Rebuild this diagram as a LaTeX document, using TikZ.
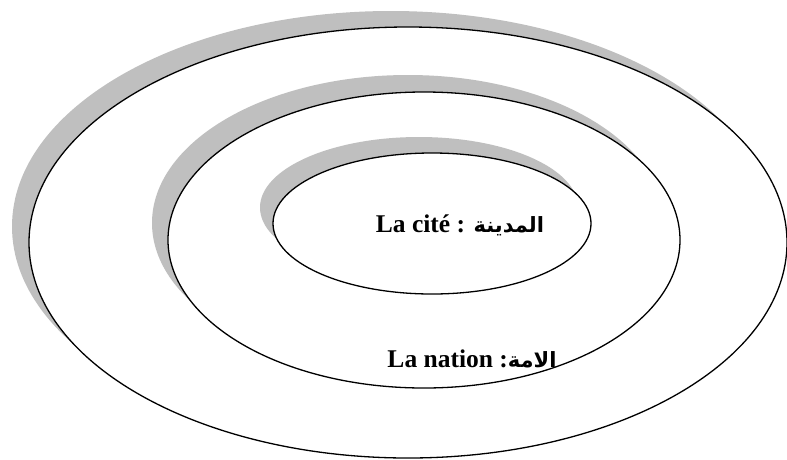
\documentclass[tikz,border=0pt]{standalone}
\usepackage{fontspec}
\setmainfont{Liberation Serif}
\newfontfamily\arabicfont[Script=Arabic]{DejaVu Sans}
\TeXXeTstate=1
\definecolor{shadegray}{RGB}{191,191,191}
\begin{document}
\begin{tikzpicture}[x=1pt,y=-1pt,
  ring/.style={draw=black,line width=1.3pt,fill=white},
  shadowring/.style={fill=shadegray},
  label/.style={inner sep=0pt,anchor=base,font=\bfseries\fontsize{25.5}{30}\selectfont}]
\newcommand\arabictext[1]{{\arabicfont\bfseries\fontsize{21}{25}\selectfont\beginR #1\endR}}
\useasboundingbox (0,0) rectangle (787,459);
% outer
\fill[shadowring] (391,226.5) ellipse [x radius=379, y radius=215.5];
\draw[ring] (408,242.5) ellipse [x radius=379, y radius=215.5];
% middle
\fill[shadowring] (408,223) ellipse [x radius=256, y radius=148];
\draw[ring] (424,240) ellipse [x radius=256, y radius=148];
% inner
\fill[shadowring] (419,207.5) ellipse [x radius=159, y radius=70.5];
\draw[ring] (432,223.5) ellipse [x radius=159, y radius=70.5];
% labels
\node[label] (cite) at (460,232) {La cité : \arabictext{المدينة}};
\node[label] (nation) at (472,367) {La nation :\arabictext{الامة}};
\end{tikzpicture}
\end{document}
